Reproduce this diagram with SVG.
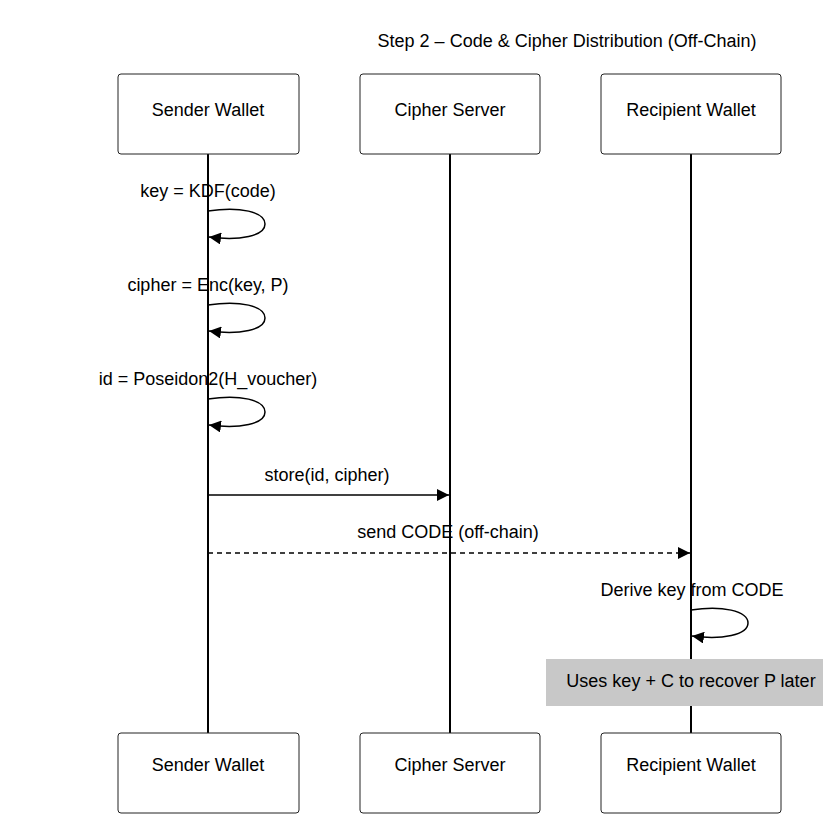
<svg xmlns="http://www.w3.org/2000/svg" width="823" height="839" viewBox="0 0 823 839">
<style>
.box{fill:#fff;stroke:#222;stroke-width:1}
.t{font-family:"Liberation Sans",Arial,sans-serif;font-size:18px;fill:#000;text-anchor:middle;dominant-baseline:central}
.life{stroke:#000;stroke-width:2}
.msg{stroke:#000;stroke-width:1.5;fill:none}
</style>
<defs>
<marker id="ahl" viewBox="0 0 12 12" refX="12" refY="6" markerWidth="12" markerHeight="12" markerUnits="userSpaceOnUse" orient="auto">
<path d="M0,0 L12,6 L0,12 z" fill="#000"/>
</marker>
</defs>
<rect width="823" height="839" fill="#fff"/>
<text class="t" x="567" y="41">Step 2 – Code &amp; Cipher Distribution (Off-Chain)</text>
<g id="lifelines">
<line class="life" x1="208" y1="154" x2="208" y2="733"/>
<line class="life" x1="450" y1="154" x2="450" y2="733"/>
<line class="life" x1="691" y1="154" x2="691" y2="733"/>
</g>
<g id="sender-top"><rect class="box" x="118" y="74" width="181" height="80" rx="3"/><text class="t" x="208" y="110">Sender Wallet</text></g>
<g id="cipher-top"><rect class="box" x="360" y="74" width="180" height="80" rx="3"/><text class="t" x="450" y="110">Cipher Server</text></g>
<g id="recipient-top"><rect class="box" x="601" y="74" width="180" height="80" rx="3"/><text class="t" x="691" y="110">Recipient Wallet</text></g>
<g id="sender-bottom"><rect class="box" x="118" y="733" width="181" height="80" rx="3"/><text class="t" x="208" y="765">Sender Wallet</text></g>
<g id="cipher-bottom"><rect class="box" x="360" y="733" width="180" height="80" rx="3"/><text class="t" x="450" y="765">Cipher Server</text></g>
<g id="recipient-bottom"><rect class="box" x="601" y="733" width="180" height="80" rx="3"/><text class="t" x="691" y="765">Recipient Wallet</text></g>
<g id="connectors">
<text class="t" x="208" y="191">key = KDF(code)</text>
<path class="msg" d="M208,211 C240,206 265,212 265,224 C265,236 240,241 209,237" marker-end="url(#ahl)"/>
<text class="t" x="208" y="285">cipher = Enc(key, P)</text>
<path class="msg" d="M208,305 C240,300 265,306 265,318 C265,330 240,335 209,331" marker-end="url(#ahl)"/>
<text class="t" x="208" y="379">id = Poseidon2(H_voucher)</text>
<path class="msg" d="M208,399 C240,394 265,400 265,412 C265,424 240,429 209,425" marker-end="url(#ahl)"/>
<text class="t" x="327" y="475">store(id, cipher)</text>
<line class="msg" x1="208" y1="495" x2="449" y2="495" marker-end="url(#ahl)"/>
<text class="t" x="448" y="532">send CODE (off-chain)</text>
<line class="msg" x1="208" y1="553" x2="690" y2="553" stroke-dasharray="5,4" marker-end="url(#ahl)"/>
<text class="t" x="692" y="590">Derive key from CODE</text>
<path class="msg" d="M691,610 C722,605 748,611 748,623 C748,635 722,640 692,636" marker-end="url(#ahl)"/>
</g>
<g id="note">
<rect x="546" y="659" width="290" height="47" fill="#c8c8c8"/>
<text class="t" x="691" y="681">Uses key + C to recover P later</text>
</g>
</svg>
